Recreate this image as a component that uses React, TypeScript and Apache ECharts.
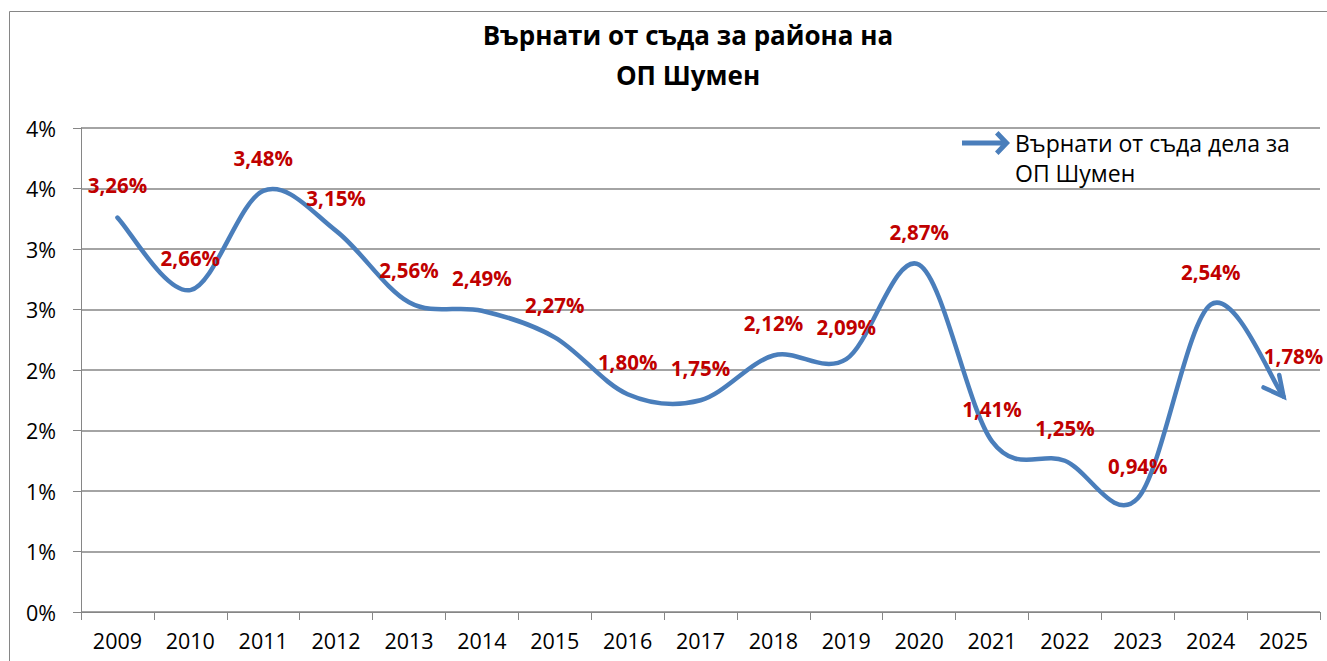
import React, { useEffect, useRef } from "react";
import * as echarts from "echarts";

const titleText = "Върнати от съда за района на\nОП Шумен";
const seriesName = "Върнати от съда дела за\nОП Шумен";
const years = ["2009", "2010", "2011", "2012", "2013", "2014", "2015", "2016", "2017", "2018", "2019", "2020", "2021", "2022", "2023", "2024", "2025"];
const values = [3.26, 2.66, 3.48, 3.15, 2.56, 2.49, 2.27, 1.80, 1.75, 2.12, 2.09, 2.87, 1.41, 1.25, 0.94, 2.54, 1.78];
const yMin = 0;
const yMax = 4;
const yStep = 0.5;

const FONT = "'Open Sans', 'Noto Sans', sans-serif";
const LINE = "#4A7EBB";
const RED = "#C00000";
const GRID = "#868686";

const legendIcon =
  "path://M0,0 L0.01,0 L0,0 Z M0,60 L0.01,60 L0,60 Z " +
  "M0,12.5 L41,12.5 L41,17.5 L0,17.5 Z M33,6.5 L36.5,3 L48,15 L36.5,27 L33,23.5 L41,15 Z";

export default function App() {
  const ref = useRef<HTMLDivElement>(null);
  useEffect(() => {
    const chart = echarts.init(ref.current!, null, { renderer: "svg" });
    const last = values.length - 1;
    const labelData = values.map((v, i) =>
      i === last ? { value: v, label: { offset: [10, -8] } } : { value: v }
    );
    const renderCurve = (params: any, api: any) => {
      if (params.dataIndex !== 0) return null;
      const pts = values.map((v, i) => api.coord([i, v]) as number[]);
      const k = 1 / 6;
      let d = `M${pts[0][0]},${pts[0][1]}`;
      let lastC2 = pts[0];
      for (let i = 0; i < pts.length - 1; i++) {
        const p0 = pts[i - 1] || pts[i];
        const p1 = pts[i];
        const p2 = pts[i + 1];
        const p3 = pts[i + 2] || pts[i + 1];
        const c1 = [p1[0] + (p2[0] - p0[0]) * k, p1[1] + (p2[1] - p0[1]) * k];
        const c2 = [p2[0] - (p3[0] - p1[0]) * k, p2[1] - (p3[1] - p1[1]) * k];
        d += ` C${c1[0]},${c1[1]} ${c2[0]},${c2[1]} ${p2[0]},${p2[1]}`;
        lastC2 = c2;
      }
      const tip = pts[pts.length - 1];
      const dx = tip[0] - lastC2[0];
      const dy = tip[1] - lastC2[1];
      const ang = Math.atan2(dy, dx);
      const arm = 22;
      const spread = (27 * Math.PI) / 180;
      const a = [tip[0] - arm * Math.cos(ang - spread), tip[1] - arm * Math.sin(ang - spread)];
      const b = [tip[0] - arm * Math.cos(ang + spread), tip[1] - arm * Math.sin(ang + spread)];
      return {
        type: "group",
        children: [
          {
            type: "path",
            shape: { pathData: d },
            style: { fill: "none", stroke: LINE, lineWidth: 4.5, lineCap: "round", lineJoin: "round" },
          },
          {
            type: "polyline",
            shape: { points: [a, tip, b] },
            style: { fill: "none", stroke: LINE, lineWidth: 4.5, lineCap: "round", lineJoin: "miter" },
          },
        ],
      };
    };
    chart.setOption({
      animation: false,
      backgroundColor: "#ffffff",
      title: {
        text: titleText,
        left: 683,
        textAlign: "center",
        top: 10,
        textStyle: { fontFamily: FONT, fontWeight: "bold", fontSize: 26, color: "#000", lineHeight: 40, align: "center" },
      },
      legend: {
        show: true,
        left: 957,
        top: 123,
        orient: "vertical",
        icon: legendIcon,
        itemWidth: 48,
        itemHeight: 60,
        textStyle: { fontFamily: FONT, fontSize: 23, color: "#000", lineHeight: 30 },
        data: [{ name: seriesName, itemStyle: { color: LINE } }],
      },
      graphic: [
        {
          type: "rect",
          shape: { x: 9.5, y: 11.5, width: 1340, height: 700 },
          style: { fill: "none", stroke: GRID, lineWidth: 1 },
          silent: true,
          z: -1,
        },
      ],
      grid: { left: 81, right: 7, top: 128, bottom: 49, containLabel: false },
      xAxis: {
        type: "category",
        data: years,
        boundaryGap: true,
        axisLine: { show: true, lineStyle: { color: GRID, width: 1 } },
        axisTick: { show: true, length: 8, lineStyle: { color: GRID } },
        axisLabel: { fontFamily: FONT, fontSize: 21.5, color: "#000", margin: 17 },
        splitLine: { show: false },
      },
      yAxis: {
        type: "value",
        min: yMin,
        max: yMax,
        interval: yStep,
        axisLine: { show: true, lineStyle: { color: GRID, width: 1 } },
        axisTick: { show: true, length: 8, lineStyle: { color: GRID } },
        axisLabel: {
          fontFamily: FONT,
          fontSize: 21.5,
          color: "#000",
          margin: 25,
          formatter: (v: number) => Math.round(v) + "%",
        },
        splitLine: { show: true, lineStyle: { color: GRID, width: 1.5 } },
      },
      series: [
        {
          name: seriesName,
          type: "custom",
          renderItem: renderCurve,
          data: values.map((v, i) => [i, v]),
          encode: { x: 0, y: 1 },
          itemStyle: { color: LINE },
          z: 3,
        },
        {
          name: "labels",
          type: "line",
          data: labelData,
          showSymbol: true,
          symbol: "circle",
          symbolSize: 0,
          lineStyle: { opacity: 0, width: 0 },
          itemStyle: { color: "transparent" },
          z: 4,
          label: {
            show: true,
            position: "top",
            distance: 22,
            fontFamily: FONT,
            fontWeight: "bold",
            fontSize: 20.5,
            color: RED,
            formatter: (p: any) => p.value.toFixed(2).replace(".", ",") + "%",
          },
        },
      ],
    });
    return () => chart.dispose();
  }, []);
  return <div ref={ref} style={{ position: "fixed", left: 0, top: 0, width: 1327, height: 661 }} />;
}
